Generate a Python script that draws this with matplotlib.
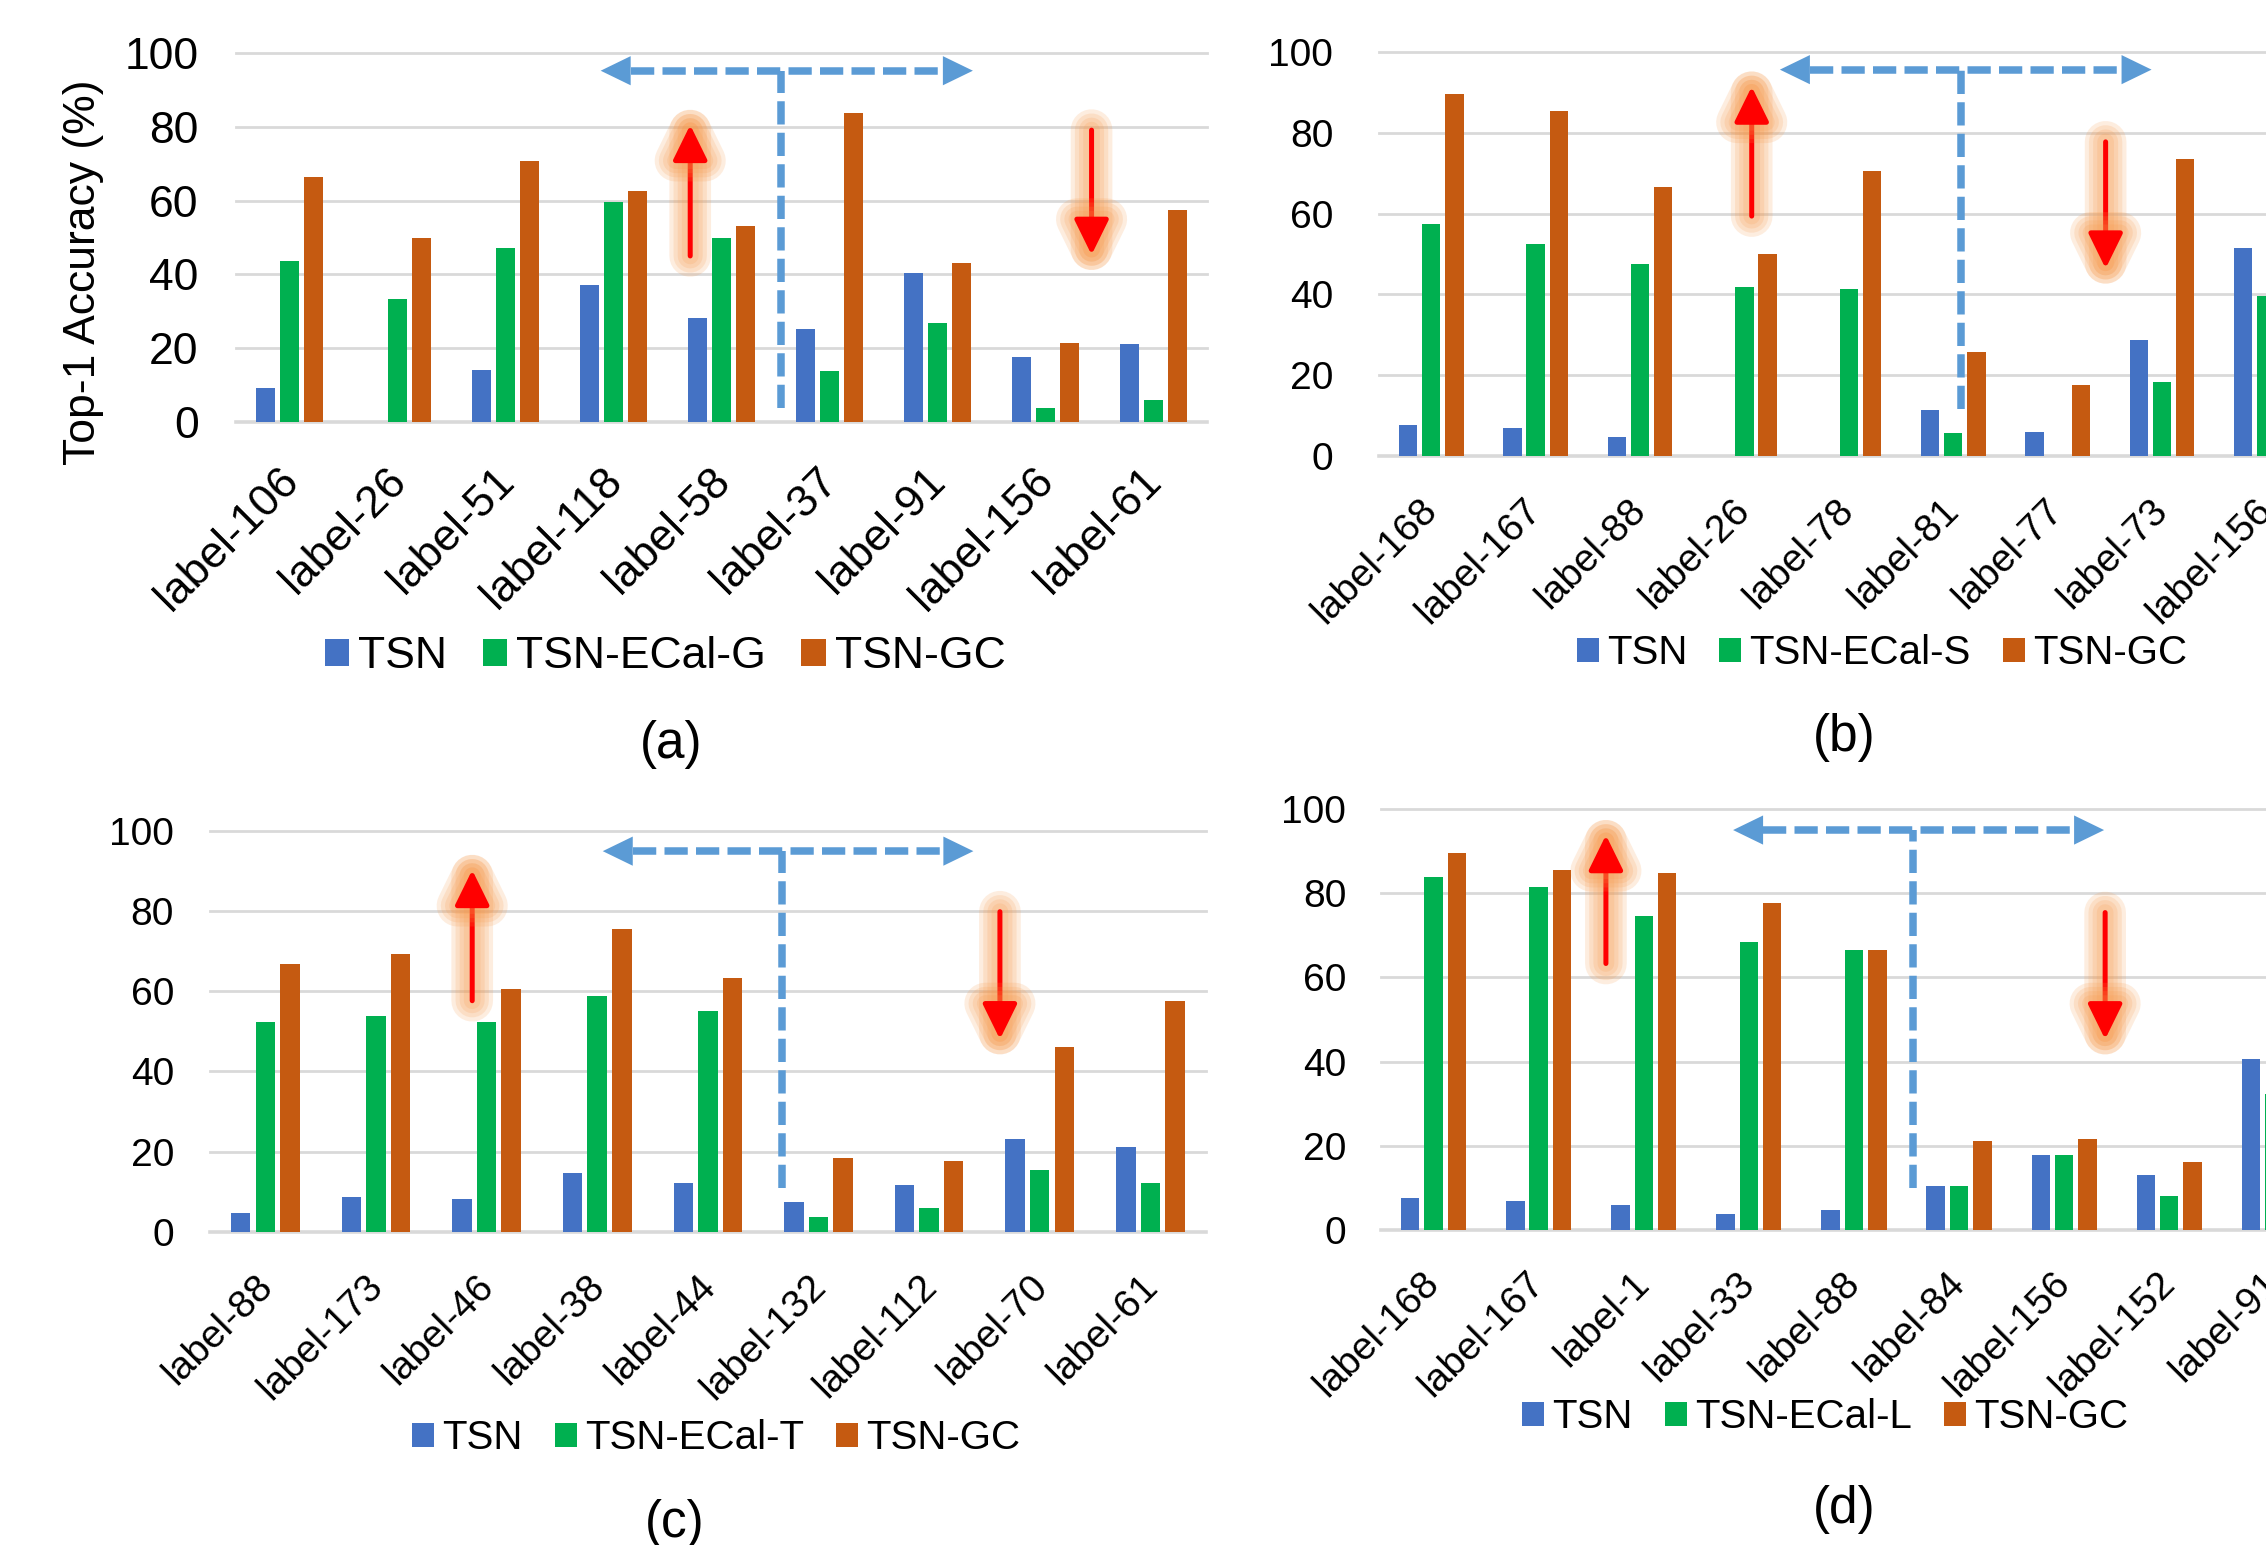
import matplotlib
matplotlib.use('Agg')
import matplotlib.pyplot as plt
import numpy as np
from matplotlib.patches import Patch
from matplotlib import patheffects as pe
from matplotlib.transforms import ScaledTranslation

plt.rcParams['font.family'] = ['Liberation Sans', 'DejaVu Sans']

# ---------------- data ----------------
series_names = ['TSN', 'TSN-ECal', 'TSN-GC']

cats_a = ['label-106', 'label-26', 'label-51', 'label-118', 'label-58', 'label-37', 'label-91', 'label-156', 'label-61']
tsn_a = [9.3, 0, 14.0, 37.2, 28.1, 25.2, 40.4, 17.6, 21.1]
ecal_a = [43.6, 33.2, 47.1, 59.6, 49.9, 13.8, 26.9, 3.9, 5.9]
gc_a = [66.5, 49.9, 70.7, 62.6, 53.0, 83.8, 43.2, 21.5, 57.5]

cats_b = ['label-168', 'label-167', 'label-88', 'label-26', 'label-78', 'label-81', 'label-77', 'label-73', 'label-156']
tsn_b = [7.5, 6.8, 4.6, 0, 0, 11.3, 5.9, 28.8, 51.6]
ecal_b = [57.4, 52.5, 47.5, 41.7, 41.2, 5.7, 0, 18.3, 39.5]
gc_b = [89.6, 85.5, 66.5, 50.0, 70.6, 25.7, 17.6, 73.6, 55.0]

cats_c = ['label-88', 'label-173', 'label-46', 'label-38', 'label-44', 'label-132', 'label-112', 'label-70', 'label-61']
tsn_c = [4.7, 8.7, 8.1, 14.7, 12.1, 7.3, 11.6, 23.0, 21.1]
ecal_c = [52.3, 53.9, 52.3, 58.8, 55.0, 3.7, 5.8, 15.4, 12.1]
gc_c = [66.7, 69.2, 60.6, 75.5, 63.3, 18.4, 17.6, 46.1, 57.6]

cats_d = ['label-168', 'label-167', 'label-1', 'label-33', 'label-88', 'label-84', 'label-156', 'label-152', 'label-91']
tsn_d = [7.6, 6.8, 5.9, 3.8, 4.8, 10.5, 17.7, 13.0, 40.5]
ecal_d = [83.8, 81.4, 74.6, 68.4, 66.5, 10.5, 17.7, 8.1, 32.2]
gc_d = [89.5, 85.4, 84.9, 77.6, 66.5, 21.1, 21.6, 16.2, 45.0]

ecal_names = ['TSN-ECal-G', 'TSN-ECal-S', 'TSN-ECal-T', 'TSN-ECal-L']
panel_tags = ['(a)', '(b)', '(c)', '(d)']
yticks = [0, 20, 40, 60, 80, 100]

# annotation positions (data coords): up arrow (x, tail, tip), down arrow (x, tail, tip),
# split line x, its bottom, bracket y, bracket left tip, right tip
ann_a = dict(up=(3.71, 45.0, 80.5), down=(7.43, 79.1, 45.3), vx=4.55, vbot=3.9, hy=95.2, hl=2.88, hr=6.33)
ann_b = dict(up=(3.07, 59.4, 91.5), down=(6.46, 77.8, 46.4), vx=5.07, vbot=11.5, hy=95.7, hl=3.34, hr=6.90)
ann_c = dict(up=(1.87, 57.6, 90.2), down=(6.64, 79.8, 48.0), vx=4.67, vbot=10.8, hy=94.9, hl=3.05, hr=6.40)
ann_d = dict(up=(1.64, 63.3, 93.8), down=(6.39, 75.4, 45.3), vx=4.56, vbot=9.9, hy=95.0, hl=2.85, hr=6.38)

# ---------------- style ----------------
C_TSN = '#4472C4'
C_ECAL = '#00B050'
C_GC = '#C55A11'
C_DASH = '#5B9BD5'
C_GRID = '#D9D9D9'

W, H = 2266, 1545
DPI = 100
fig = plt.figure(figsize=(W / DPI, H / DPI), dpi=DPI)


def px_axes(left, right, y0, y100):
    return fig.add_axes([left / W, 1 - y0 / H, (right - left) / W, (y0 - y100) / H])


def glow_effects():
    effs = []
    for lw in (30, 24, 18, 12):
        effs.append(pe.Stroke(linewidth=lw, foreground='#F79646', alpha=0.17,
                              capstyle='round', joinstyle='round'))
    effs.append(pe.Normal())
    return effs


def draw_panel(ax, cats, s1, s2, s3, ecal_name, tick_fs, cat_fs, cat_dx, cat_dy,
               ytick_pad, leg_center, leg_fs, tag, tag_pos, ann):
    n = len(cats)
    x = np.arange(n)
    step = 0.222
    bw = 0.176
    ax.bar(x - step, s1, bw, color=C_TSN, zorder=2, clip_on=False)
    ax.bar(x, s2, bw, color=C_ECAL, zorder=2, clip_on=False)
    ax.bar(x + step, s3, bw, color=C_GC, zorder=2, clip_on=False)
    ax.set_xlim(-0.5, n - 0.5)
    ax.set_ylim(0, 100)
    for s in ax.spines.values():
        s.set_visible(False)
    for yv in yticks:
        ax.axhline(yv, color=C_GRID, lw=2.0 if yv else 2.6, zorder=0, clip_on=False)
    ax.set_yticks(yticks)
    ax.set_yticklabels([str(v) for v in yticks])
    ax.tick_params(axis='y', length=0, pad=ytick_pad, labelsize=tick_fs, labelcolor='black')
    ax.set_xticks([])
    off = ScaledTranslation(cat_dx / DPI, -cat_dy / DPI, fig.dpi_scale_trans)
    for i, lab in enumerate(cats):
        ax.text(i, 0, lab, transform=ax.get_xaxis_transform() + off, rotation=45,
                rotation_mode='anchor', ha='right', va='baseline', fontsize=cat_fs,
                color='black', clip_on=False)

    handles = [Patch(facecolor=C_TSN), Patch(facecolor=C_ECAL), Patch(facecolor=C_GC)]
    fig.legend(handles, ['TSN', ecal_name, 'TSN-GC'], loc='center',
               bbox_to_anchor=(leg_center[0] / W, 1 - leg_center[1] / H),
               ncol=3, frameon=False, fontsize=leg_fs, handlelength=0.55,
               handleheight=0.55, handletextpad=0.2, columnspacing=0.8, borderpad=0)
    fig.text(tag_pos[0] / W, 1 - tag_pos[1] / H, tag, fontsize=37, ha='center', va='center')

    # red arrows with glow
    for key in ('up', 'down'):
        xa, tail, tip = ann[key]
        a = ax.annotate('', xy=(xa, tip), xytext=(xa, tail),
                        arrowprops=dict(arrowstyle='-|>,head_length=21.6,head_width=10.6',
                                        mutation_scale=1, lw=3.6, color='#FF0000',
                                        shrinkA=0, shrinkB=0), zorder=5,
                        annotation_clip=False)
        a.arrow_patch.set_path_effects(glow_effects())

    # blue dashed split line and bracket
    px_per_unit = ax.bbox.width / n
    head = 30 / px_per_unit
    ax.plot([ann['vx'], ann['vx']], [ann['vbot'], ann['hy']], color=C_DASH, lw=5.4,
            dashes=(3.1, 1.1), dash_capstyle='butt', zorder=4, clip_on=False)
    ax.plot([ann['hl'] + head, ann['hr'] - head], [ann['hy'], ann['hy']], color=C_DASH,
            lw=5.4, dashes=(3.1, 1.1), dash_capstyle='butt', zorder=4, clip_on=False)
    for tipx, sgn in ((ann['hl'], 1), (ann['hr'], -1)):
        ax.annotate('', xy=(tipx, ann['hy']), xytext=(tipx + sgn * head, ann['hy']),
                    arrowprops=dict(arrowstyle='-|>,head_length=21.6,head_width=10.5',
                                    mutation_scale=1, lw=0, color=C_DASH,
                                    shrinkA=0, shrinkB=0), zorder=4,
                    annotation_clip=False)


ax_a = px_axes(236, 1207, 422, 53)
ax_b = px_axes(1379, 1379 + 9 * 104.4, 455.7, 52.3)
ax_c = px_axes(210, 1205.7, 1231.7, 830.7)
ax_d = px_axes(1381, 1381 + 9 * 105.1, 1230, 809)

draw_panel(ax_a, cats_a, tsn_a, ecal_a, gc_a, ecal_names[0], 32, 32, 10, 61, 27,
           (665, 657), 32, panel_tags[0], (671, 745), ann_a)
draw_panel(ax_b, cats_b, tsn_b, ecal_b, gc_b, ecal_names[1], 28, 28, 7, 56, 33,
           (1882, 653), 29, panel_tags[1], (1844, 737), ann_b)
draw_panel(ax_c, cats_c, tsn_c, ecal_c, gc_c, ecal_names[2], 28, 28, 9, 56, 26,
           (716, 1438), 29, panel_tags[2], (675, 1523), ann_c)
draw_panel(ax_d, cats_d, tsn_d, ecal_d, gc_d, ecal_names[3], 28, 28, 7, 55, 25,
           (1825, 1417), 29, panel_tags[3], (1844, 1510), ann_d)

fig.text(84 / W, 1 - 272 / H, 'Top-1 Accuracy (%)', rotation=90, fontsize=32,
         ha='center', va='center')

fig.savefig('out.png', dpi=DPI)
